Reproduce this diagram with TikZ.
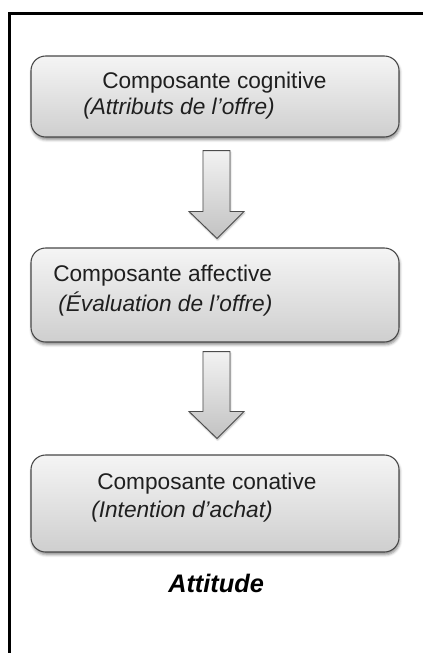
\documentclass[tikz,border=0pt]{standalone}
\usepackage{fontspec}
\setmainfont{Liberation Sans}
\usetikzlibrary{calc,shadows.blur}
\begin{document}
\begin{tikzpicture}[x=0.75pt,y=-0.75pt,
  stage/.style={draw=black!72, line width=0.8pt, rounded corners=11pt,
    top color=gray!8, bottom color=gray!38, minimum width=276pt,
    blur shadow={shadow xshift=0.6pt, shadow yshift=-2pt,
      shadow blur radius=2pt, shadow opacity=45}},
  label/.style={anchor=west, inner sep=0pt, text=black!88,
    font=\fontsize{17}{20}\selectfont},
  flowarrow/.style={draw=black!70, line width=0.7pt, line join=miter,
    top color=gray!10, bottom color=gray!48,
    blur shadow={shadow xshift=0.5pt, shadow yshift=-1.2pt,
      shadow blur radius=1.2pt, shadow opacity=30}}]

\useasboundingbox (0,0) rectangle (422,653);

% outer frame, open to the right and bottom
\draw[line width=2.3pt] (9.5,660) -- (9.5,13.5) -- (430,13.5);

% the three components
\node[stage, minimum height=60.75pt] (b1) at (215,96.5) {};
\node[stage, minimum height=70.5pt]  (b2) at (215,295) {};
\node[stage, minimum height=72.75pt] (b3) at (215,503.5) {};

\node[label] (t1a) at (102,83)  {Composante cognitive};
\node[label] (t1b) at (83,109)  {\itshape (Attributs de l’offre)};
\node[label] (t2a) at (53,276)  {Composante affective};
\node[label] (t2b) at (58,304)  {\itshape (Évaluation de l’offre)};
\node[label] (t3a) at (97,484)  {Composante conative};
\node[label] (t3b) at (91,512)  {\itshape (Intention d’achat)};

\node[label, font=\fontsize{19}{22}\selectfont\bfseries\itshape, text=black]
  (att) at (168,583) {Attitude};

% block arrows between the components
\path[flowarrow]
  ($(b1.south)+(-12,13)$) -- ($(b1.south)+(15,13)$)
  -- ($(b2.north)+(15,-36)$) -- ($(b2.north)+(29,-36)$)
  -- ($(b2.north)+(2,-9)$) -- ($(b2.north)+(-26,-36)$)
  -- ($(b2.north)+(-12,-36)$) -- cycle;
\path[flowarrow]
  ($(b2.south)+(-12,9)$) -- ($(b2.south)+(15,9)$)
  -- ($(b3.north)+(15,-43)$) -- ($(b3.north)+(29,-43)$)
  -- ($(b3.north)+(2,-16)$) -- ($(b3.north)+(-26,-43)$)
  -- ($(b3.north)+(-12,-43)$) -- cycle;
\end{tikzpicture}
\end{document}
